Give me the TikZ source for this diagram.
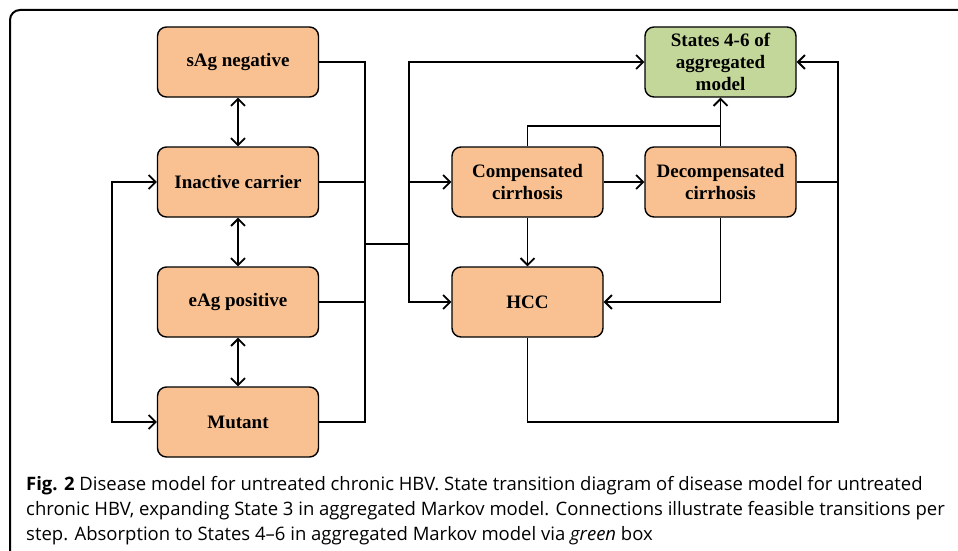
\documentclass[tikz,border=0pt]{standalone}
\usepackage{fontspec}
\setmainfont{Liberation Serif}
\newfontfamily\capfont{Open Sans}
\usetikzlibrary{arrows.meta}
\definecolor{peach}{HTML}{F9C191}
\definecolor{sage}{HTML}{C4D79B}
\tikzset{
  state/.style={draw=black, line width=1.4pt, rounded corners=9pt, fill=peach,
    minimum width=161pt, minimum height=70pt, inner sep=0pt, align=center,
    font=\fontsize{19}{22}\selectfont\bfseries},
  narrow/.style={minimum width=151pt},
  absorb/.style={state, narrow, fill=sage},
  conn/.style={line width=1.8pt, draw=black},
  >={Straight Barb[length=7pt,width=14pt,line width=1.8pt]},
  capline/.style={anchor=base west, inner sep=0pt, font=\capfont\fontsize{18.5}{22}\selectfont}
}
\begin{document}
\begin{tikzpicture}[x=1pt,y=-1pt]
\useasboundingbox (0,0) rectangle (958,551);
\begin{scope}
\clip (0,0) rectangle (958,551);
\draw[line width=2pt, rounded corners=10pt] (10,10) rectangle (990,600);
\end{scope}

% nodes
\node[state] (sag) at (238,62) {sAg negative};
\node[state] (ic)  at (238,182) {Inactive carrier};
\node[state] (eag) at (238,302) {eAg positive};
\node[state] (mut) at (238,422) {Mutant};
\node[state,narrow] (comp) at (527.5,182) {Compensated\\cirrhosis};
\node[state,narrow] (dec) at (720.5,182) {Decompensated\\cirrhosis};
\node[state,narrow] (hcc) at (527.5,302) {HCC};
\node[absorb] (st) at (720.5,62) {States 4-6 of\\aggregated\\model};

% coordinates
\coordinate (b1t) at (365,62);
\coordinate (b1b) at (365,422);
\coordinate (j1) at (365,244);
\coordinate (j2) at (409,244);
\coordinate (lt) at (112,182);
\coordinate (lb) at (112,422);
\coordinate (cj) at (720.5,126);
\coordinate (rt) at (838,62);
\coordinate (rb) at (838,422);

% left side
\draw[conn,<->] (sag) -- (ic);
\draw[conn,<->] (ic) -- (eag);
\draw[conn,<->] (eag) -- (mut);
\draw[conn,<->] (ic.west) -- (lt) -- (lb) -- (mut.west);

% right bus
\draw[conn] (sag.east) -- (b1t) -- (b1b) -- (mut.east);
\draw[conn] (ic.east) -- (ic.east -| b1t);
\draw[conn] (eag.east) -- (eag.east -| b1t);
\draw[conn] (j1) -- (j2);
\draw[conn,->] (j2) |- (st.west);
\draw[conn,->] (j2) |- (hcc.west);
\draw[conn,->] (comp.west -| j2) -- (comp.west);

% cirrhosis part
\draw[conn,->] (comp) -- (dec);
\draw[conn,->] (comp) -- (hcc);
\draw[conn] (comp.north) |- (cj);
\draw[conn,->] (dec) -- (st);
\draw[conn,->] (dec.south) |- (hcc.east);
\draw[conn,->] (dec.east) -| (rt) -- (st.east);
\draw[conn] (hcc.south) |- (rb) -- (rt);

% caption
\node[capline] (c1) at (26,490) {\textbf{Fig. 2} Disease model for untreated chronic HBV. State transition diagram of disease model for untreated};
\node[capline] (c2) at (26,515) {chronic HBV, expanding State 3 in aggregated Markov model. Connections illustrate feasible transitions per};
\node[capline] (c3) at (26,540) {step. Absorption to States 4–6 in aggregated Markov model via \textit{green} box};
\end{tikzpicture}
\end{document}
